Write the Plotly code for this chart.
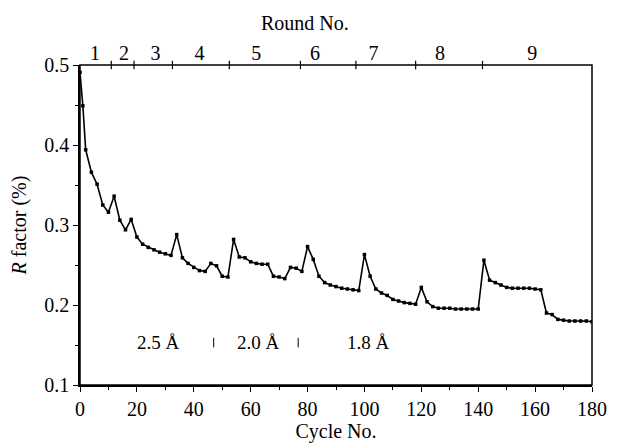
import plotly.graph_objects as go

# ---- data ----
cycles = [0, 1, 2, 4, 6, 8, 10, 12, 14, 16, 18, 20, 22, 24, 26, 28, 30, 32, 34, 36, 38,
          40, 42, 44, 46, 48, 50, 52, 54, 56, 58, 60, 62, 64, 66, 68, 70, 72, 74, 76, 78,
          80, 82, 84, 86, 88, 90, 92, 94, 96, 98, 100, 102, 104, 106, 108, 110, 112, 114,
          116, 118, 120, 122, 124, 126, 128, 130, 132, 134, 136, 138, 140, 142, 144, 146,
          148, 150, 152, 154, 156, 158, 160, 162, 164, 166, 168, 170, 172, 174, 176, 178, 180]
r_factor = [0.491, 0.449, 0.394, 0.366, 0.351, 0.325, 0.316, 0.336, 0.306, 0.294, 0.307,
            0.285, 0.276, 0.272, 0.269, 0.266, 0.264, 0.262, 0.288, 0.259, 0.252,
            0.247, 0.243, 0.242, 0.252, 0.249, 0.236, 0.235, 0.282, 0.260, 0.259,
            0.254, 0.252, 0.251, 0.251, 0.236, 0.235, 0.233, 0.247, 0.246, 0.242,
            0.273, 0.257, 0.236, 0.228, 0.225, 0.223, 0.221, 0.220, 0.219, 0.218,
            0.263, 0.236, 0.220, 0.215, 0.212, 0.207, 0.205, 0.203, 0.202, 0.201,
            0.222, 0.204, 0.198, 0.196, 0.196, 0.196, 0.195, 0.195, 0.195, 0.195,
            0.195, 0.256, 0.231, 0.228, 0.225, 0.222, 0.221, 0.221, 0.221, 0.221,
            0.220, 0.219, 0.190, 0.188, 0.182, 0.181, 0.180, 0.180, 0.180, 0.180, 0.179]

round_labels = ["1", "2", "3", "4", "5", "6", "7", "8", "9"]
round_label_pos = [5.3, 15.5, 26.5, 42, 62, 82.6, 103.2, 126.6, 159]
round_bounds = [11, 19, 32.5, 52.5, 77.5, 97, 118, 141.5]

res_labels = ["2.5 Å", "2.0 Å", "1.8 Å"]
res_label_x = [27.5, 62.6, 101.5]
res_sep_x = [47, 76.7]
res_y = 0.153

x_ticks = list(range(0, 181, 20))
y_ticks = [0.1, 0.2, 0.3, 0.4, 0.5]
x_range = [0, 180]
y_range = [0.1, 0.5]

FONT = "Liberation Serif"
TICKFONT = dict(family=FONT, size=20, color="black")
TITLEFONT = dict(family=FONT, size=20, color="black")

fig = go.Figure()
fig.add_trace(go.Scatter(
    x=cycles, y=r_factor, mode="lines+markers",
    line=dict(color="black", width=1.6),
    marker=dict(color="black", size=3.5, symbol="square"),
    showlegend=False, hoverinfo="skip"))
# round boundary tick marks on the top axis
fig.add_trace(go.Scatter(
    x=round_bounds, y=[y_range[1]] * len(round_bounds), mode="markers",
    marker=dict(symbol="line-ns-open", size=6, color="black",
                line=dict(color="black", width=1.2)),
    cliponaxis=False, showlegend=False, hoverinfo="skip"))
# invisible helper trace so the top axis labels get drawn
fig.add_trace(go.Scatter(x=x_range, y=y_range, xaxis="x2", yaxis="y", mode="markers",
                         marker=dict(opacity=0), showlegend=False, hoverinfo="skip"))

annotations = []
for t, x in zip(res_labels, res_label_x):
    annotations.append(dict(x=x, y=res_y, xref="x", yref="y", text=t, showarrow=False,
                            font=dict(family=FONT, size=19, color="black")))
annotations.append(dict(x=0.44, y=1, xref="paper", yref="paper", text="Round No.",
                        showarrow=False, yanchor="middle", yshift=42,
                        font=TITLEFONT))
shapes = [dict(type="rect", xref="paper", yref="paper", x0=0, x1=1, y0=0, y1=1,
               line=dict(color="black", width=1.5), layer="above")]
for x in res_sep_x:
    shapes.append(dict(type="line", xref="x", yref="y", x0=x, x1=x,
                       y0=res_y - 0.006, y1=res_y + 0.006,
                       line=dict(color="black", width=1)))

fig.update_layout(
    width=619, height=448,
    margin=dict(l=80, r=16, t=65, b=56),
    paper_bgcolor="white", plot_bgcolor="white",
    font=dict(family=FONT, color="black", size=18),
    xaxis=dict(range=x_range, tickvals=x_ticks, ticks="outside", ticklen=5,
               tickwidth=1.2, tickcolor="black", showline=True, linecolor="black",
               linewidth=1.5, showgrid=False, zeroline=False, tickfont=TICKFONT,
               minor=dict(dtick=10, tick0=0, ticks="outside", ticklen=3, tickcolor="black"),
               title=dict(text="Cycle No.", font=TITLEFONT, standoff=2)),
    yaxis=dict(range=y_range, tickvals=y_ticks, tickformat=".1f", ticks="outside",
               ticklen=5, tickwidth=1.2, tickcolor="black", showline=True,
               linecolor="black", linewidth=1.5, showgrid=False, zeroline=False,
               tickfont=TICKFONT,
               minor=dict(dtick=0.05, tick0=0.1, ticks="outside", ticklen=3, tickcolor="black"),
               title=dict(text="<i>R</i> factor (%)", font=TITLEFONT, standoff=12)),
    xaxis2=dict(range=x_range, overlaying="x", side="top", anchor="y", showline=False,
                showgrid=False, zeroline=False,
                tickvals=round_label_pos, ticktext=round_labels, ticks="",
                tickfont=TICKFONT),
    annotations=annotations,
    shapes=shapes,
)

fig.write_html("out.html")
